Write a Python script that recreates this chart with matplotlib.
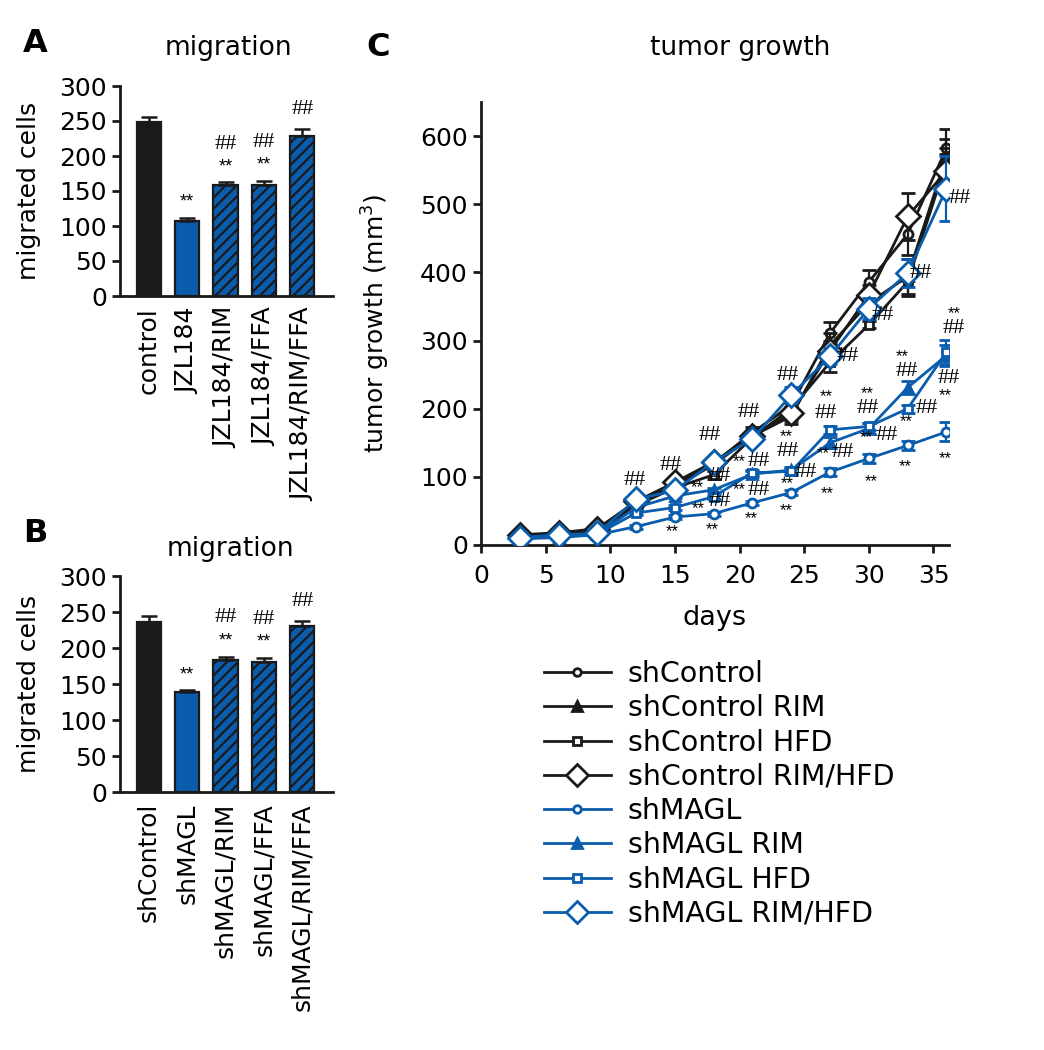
import matplotlib
matplotlib.use("Agg")
import matplotlib.pyplot as plt
from matplotlib.lines import Line2D
import numpy as np

plt.rcParams['font.family'] = ['DejaVu Sans']
plt.rcParams['hatch.linewidth'] = 1.6

BLUE = '#0a5cad'
BLACK = '#1a1a1a'

# ---------------- data ----------------
a_labels = ['control', 'JZL184', 'JZL184/RIM', 'JZL184/FFA', 'JZL184/RIM/FFA']
a_values = [249, 107, 159, 159, 229]
a_errors = [7, 5, 4, 6, 9]
a_stars = ['', '**', '**', '**', '']
a_hash = ['', '', '##', '##', '##']

b_labels = ['shControl', 'shMAGL', 'shMAGL/RIM', 'shMAGL/FFA', 'shMAGL/RIM/FFA']
b_values = [236, 139, 183, 181, 230]
b_errors = [9, 2, 5, 5, 7]
b_stars = ['', '**', '**', '**', '']
b_hash = ['', '', '##', '##', '##']

days = [3, 6, 9, 12, 15, 18, 21, 24, 27, 30, 33, 36]
shControl = [14, 17, 22, 62, 88, 120, 165, 205, 311, 386, 456, 582]
shControl_RIM = [13, 16, 20, 60, 85, 118, 160, 189, 293, 355, 394, 570]
shControl_HFD = [12, 15, 19, 58, 84, 103, 158, 200, 268, 323, 386, 562]
shControl_RIM_HFD = [15, 18, 24, 64, 92, 122, 160, 193, 285, 367, 482, 549]
shMAGL = [9, 11, 15, 27, 41, 46, 62, 77, 107, 127, 146, 166]
shMAGL_RIM = [10, 12, 16, 55, 72, 81, 104, 110, 150, 171, 231, 278]
shMAGL_HFD = [10, 12, 16, 47, 55, 71, 106, 108, 169, 174, 200, 283]
shMAGL_RIM_HFD = [11, 15, 17, 67, 80, 122, 156, 220, 277, 347, 399, 523]

err_shControl = [2, 2, 2, 4, 5, 6, 8, 10, 16, 18, 30, 28]
err_shControl_RIM = [2, 2, 2, 4, 5, 6, 8, 12, 18, 15, 25, 25]
err_shControl_HFD = [2, 2, 2, 4, 5, 6, 8, 10, 14, 5, 20, 20]
err_shControl_RIM_HFD = [2, 2, 2, 4, 5, 6, 8, 10, 14, 15, 35, 25]
err_shMAGL = [1, 1, 1, 3, 3, 3, 3, 4, 6, 7, 6, 14]
err_shMAGL_RIM = [1, 1, 1, 3, 3, 3, 4, 5, 8, 8, 10, 15]
err_shMAGL_HFD = [1, 1, 1, 3, 3, 3, 4, 5, 6, 5, 6, 18]
err_shMAGL_RIM_HFD = [1, 1, 1, 4, 5, 6, 8, 12, 12, 15, 20, 48]

series_names = ['shControl', 'shControl RIM', 'shControl HFD', 'shControl RIM/HFD',
                'shMAGL', 'shMAGL RIM', 'shMAGL HFD', 'shMAGL RIM/HFD']
series_vals = [shControl, shControl_RIM, shControl_HFD, shControl_RIM_HFD,
               shMAGL, shMAGL_RIM, shMAGL_HFD, shMAGL_RIM_HFD]
series_errs = [err_shControl, err_shControl_RIM, err_shControl_HFD, err_shControl_RIM_HFD,
               err_shMAGL, err_shMAGL_RIM, err_shMAGL_HFD, err_shMAGL_RIM_HFD]

# significance marks in panel C (text, day, value)
c_ann_text = ['##', '##', '**', '##', '**', '##', '**', '##', '**',
              '##', '**', '##', '**', '##', '**',
              '##', '**', '##', '##', '**', '**',
              '##', '**', '##', '**', '##', '**',
              '##', '**', '##', '**', '##', '**',
              '##', '**', '##', '##', '**', '**',
              '##', '**', '##', '##', '**', '**']
c_ann_x = [11.9, 14.7, 14.8, 17.7, 16.7, 18.5, 16.8, 18.5, 17.9,
           20.7, 20.0, 21.5, 20.0, 21.5, 20.9,
           23.7, 23.6, 23.7, 25.1, 23.7, 23.6,
           28.4, 26.7, 26.7, 26.5, 28.0, 26.8,
           31.1, 29.9, 29.9, 29.8, 31.4, 30.2,
           34.0, 32.6, 32.9, 34.5, 32.9, 32.8,
           37.0, 36.6, 36.6, 36.2, 35.9, 35.9]
c_ann_y = [95, 117, 24, 161, 88, 100, 58, 64, 27,
           195, 126, 122, 85, 80, 42,
           249, 163, 137, 106, 94, 55,
           276, 222, 193, 138, 135, 80,
           337, 226, 200, 162, 160, 97,
           398, 280, 254, 200, 185, 119,
           509, 344, 318, 245, 223, 131]

# ---------------- figure ----------------
W, H = 1044, 1050
fig = plt.figure(figsize=(W / 100, H / 100), dpi=100)


def px_axes(l, t, r, b):
    return fig.add_axes([l / W, 1 - b / H, (r - l) / W, (b - t) / H])


def style_axes(ax):
    for s in ['top', 'right']:
        ax.spines[s].set_visible(False)
    for s in ['left', 'bottom']:
        ax.spines[s].set_linewidth(2.0)
        ax.spines[s].set_color(BLACK)
    ax.tick_params(width=2.0, length=6, labelsize=18, color=BLACK)


def bar_panel(ax, labels, values, errors, stars, hashes):
    x = np.arange(len(labels))
    colors = [BLACK] + [BLUE] * (len(labels) - 1)
    hatches = ['', '', '///', '///', '///']
    for i in range(len(labels)):
        ax.bar(x[i], values[i], width=0.63, color=colors[i], edgecolor=BLACK,
               linewidth=1.6, hatch=hatches[i], zorder=2)
        ax.errorbar(x[i], values[i], yerr=[[0], [errors[i]]], fmt='none',
                    ecolor=BLACK, elinewidth=1.8, capsize=6, capthick=1.8, zorder=3)
        top = values[i] + errors[i]
        if stars[i]:
            ax.text(x[i], top + 22, stars[i], ha='center', va='center', fontsize=13,
                    family='Liberation Sans')
        if hashes[i]:
            yoff = 54 if stars[i] else 28
            ax.text(x[i], top + yoff, hashes[i], ha='center', va='center', fontsize=16,
                    family='Liberation Serif')
    ax.set_xlim(-0.75, 4.8)
    ax.set_ylim(0, 300)
    ax.set_yticks([0, 50, 100, 150, 200, 250, 300])
    ax.set_xticks(x)
    ax.set_xticklabels(labels, rotation=90)
    style_axes(ax)
    ax.tick_params(axis='x', length=0, pad=8)
    ax.set_ylabel('migrated cells', fontsize=18)
    ax.yaxis.set_label_coords(-0.37, 0.5)


axA = px_axes(120, 86, 333, 296)
bar_panel(axA, a_labels, a_values, a_errors, a_stars, a_hash)
axB = px_axes(120, 576, 333, 792)
bar_panel(axB, b_labels, b_values, b_errors, b_stars, b_hash)

fig.text(228 / W, 1 - 48 / H, 'migration', ha='center', va='center', fontsize=19)
fig.text(230 / W, 1 - 549 / H, 'migration', ha='center', va='center', fontsize=19)
fig.text(35 / W, 1 - 44 / H, 'A', ha='center', va='center', fontsize=23, weight='bold')
fig.text(35 / W, 1 - 534 / H, 'B', ha='center', va='center', fontsize=23, weight='bold')
fig.text(378 / W, 1 - 48 / H, 'C', ha='center', va='center', fontsize=23, weight='bold')
fig.text(740 / W, 1 - 48 / H, 'tumor growth', ha='center', va='center', fontsize=19)

# ---------------- panel C ----------------
axC = px_axes(481, 102, 949, 545)
markers = ['o', '^', 's', 'D', 'o', '^', 's', 'D']
msizes = [6.5, 7.5, 6, 12, 6.5, 7.5, 6, 12]
fills = ['white', None, 'white', 'white', 'white', None, 'white', 'white']
cols = [BLACK] * 4 + [BLUE] * 4
for i in range(8):
    mfc = cols[i] if fills[i] is None else fills[i]
    axC.errorbar(days, series_vals[i], yerr=series_errs[i], color=cols[i],
                 linewidth=2.0, marker=markers[i], markersize=msizes[i],
                 markerfacecolor=mfc, markeredgecolor=cols[i], markeredgewidth=2.0,
                 capsize=5, elinewidth=1.6, capthick=1.6, zorder=3 + i,
                 label=series_names[i])

for t, xx, yy in zip(c_ann_text, c_ann_x, c_ann_y):
    if t == '##':
        axC.text(xx, yy, t, ha='center', va='center', fontsize=16,
                 family='Liberation Serif', zorder=20)
    else:
        axC.text(xx, yy - 4, t, ha='center', va='center', fontsize=12,
                 family='Liberation Sans', zorder=20)

axC.set_xlim(0, 36.2)
axC.set_ylim(0, 650)
axC.set_xticks([0, 5, 10, 15, 20, 25, 30, 35])
axC.set_yticks([0, 100, 200, 300, 400, 500, 600])
style_axes(axC)
axC.tick_params(axis='x', pad=8)
axC.set_xlabel('days', fontsize=19.5, labelpad=12)
axC.set_ylabel('tumor growth (mm$^3$)', fontsize=18)
axC.yaxis.set_label_coords(-0.19, 0.5)

leg_handles = []
leg_ms = [5.5, 7, 5.5, 11, 5.5, 7, 5.5, 11]
for i in range(8):
    mfc = cols[i] if fills[i] is None else fills[i]
    leg_handles.append(Line2D([0], [0], color=cols[i], linewidth=2.0, marker=markers[i],
                              markersize=leg_ms[i], markerfacecolor=mfc,
                              markeredgecolor=cols[i], markeredgewidth=2.0))
fig.legend(leg_handles, series_names, loc='upper left',
           bbox_to_anchor=(544 / W, 1 - 660 / H), frameon=False, fontsize=20.5,
           handlelength=2.35, handletextpad=0.6, labelspacing=0.22, borderpad=0,
           borderaxespad=0)

fig.savefig('out.png', dpi=100)
